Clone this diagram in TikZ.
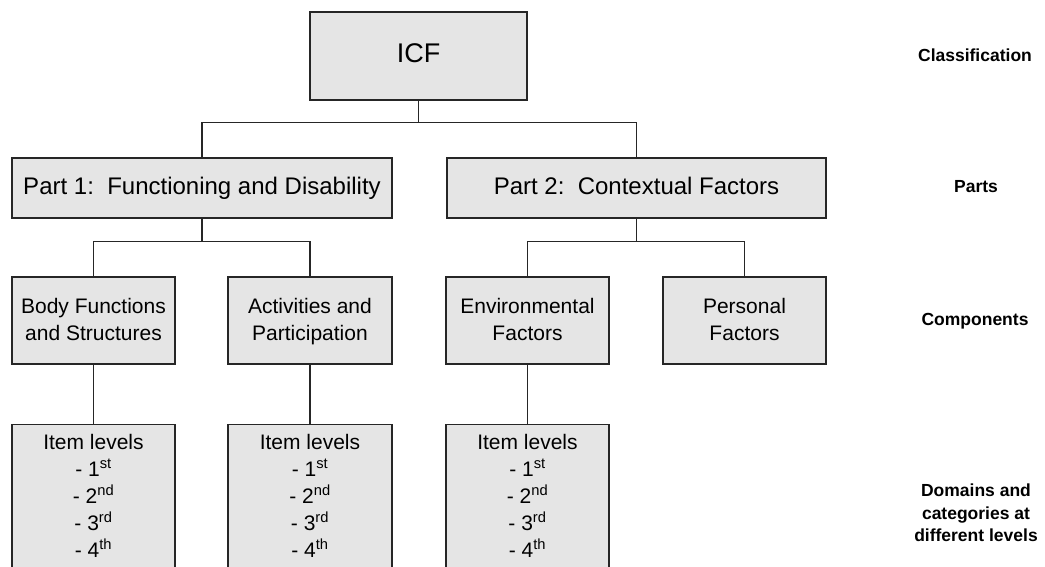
\documentclass[tikz,border=0pt]{standalone}
\usepackage{fontspec}
\setmainfont{Liberation Sans}
\newcommand\tstrut{\rule[-0.17\baselineskip]{0pt}{0.8\baselineskip}}
\begin{document}
\begin{tikzpicture}[x=1pt,y=-1pt,
  box/.style={draw=black!85, fill=black!10, line width=1.3pt, inner sep=0pt, align=center},
  conn/.style={draw=black!85, line width=1.3pt},
  lvl/.style={font=\bfseries\fontsize{17.5}{22.5}\selectfont, align=center, inner sep=0pt},
  comp/.style={box, minimum width=163pt, minimum height=87pt, font=\fontsize{21}{27}\selectfont},
  items/.style={box, minimum width=163pt, minimum height=146pt, anchor=north, font=\fontsize{21}{27}\selectfont}
]
\useasboundingbox (0,0) rectangle (1045,567);
\clip (0,0) rectangle (1045,567);
\fill[white] (0,0) rectangle (1045,567);

\node[box, minimum width=217pt, minimum height=88pt, font=\fontsize{27}{32}\selectfont] (icf) at (418.5,56) {\strut ICF};
\node[box, minimum width=380pt, minimum height=60pt, font=\fontsize{24}{28}\selectfont] (p1) at (202,188) {\tstrut Part 1:\ \ Functioning and Disability};
\node[box, minimum width=379pt, minimum height=60pt, font=\fontsize{24}{28}\selectfont] (p2) at (636.5,188) {\tstrut Part 2:\ \ Contextual Factors};

\node[comp] (bf) at (93.5,320.5) {\tstrut Body Functions\\\tstrut and Structures};
\node[comp, minimum width=164pt] (ap) at (310,320.5) {\tstrut Activities and\\\tstrut Participation};
\node[comp] (ef) at (527.5,320.5) {\tstrut Environmental\\\tstrut Factors};
\node[comp] (pf) at (744.5,320.5) {\tstrut Personal\\\tstrut Factors};

\node[items] (i1) at (93.5,424) {\strut Item levels\\- 1\textsuperscript{st}\\- 2\textsuperscript{nd}\\- 3\textsuperscript{rd}\\\strut - 4\textsuperscript{th}};
\node[items, minimum width=164pt] (i2) at (310,424) {\strut Item levels\\- 1\textsuperscript{st}\\- 2\textsuperscript{nd}\\- 3\textsuperscript{rd}\\\strut - 4\textsuperscript{th}};
\node[items] (i3) at (527.5,424) {\strut Item levels\\- 1\textsuperscript{st}\\- 2\textsuperscript{nd}\\- 3\textsuperscript{rd}\\\strut - 4\textsuperscript{th}};

\draw[conn] (icf.south) -- ++(0,22) coordinate (j0);
\draw[conn] (j0) -| (p1.north);
\draw[conn] (j0) -| (p2.north);
\draw[conn] (p1.south) -- ++(0,23) coordinate (j1);
\draw[conn] (j1) -| (bf.north);
\draw[conn] (j1) -| (ap.north);
\draw[conn] (p2.south) -- ++(0,23) coordinate (j2);
\draw[conn] (j2) -| (ef.north);
\draw[conn] (j2) -| (pf.north);
\draw[conn] (bf.south) -- (i1.north);
\draw[conn] (ap.south) -- (i2.north);
\draw[conn] (ef.south) -- (i3.north);

\node[lvl] (lc) at (975,55) {Classification};
\node[lvl] (lp) at (976,187) {Parts};
\node[lvl] (lco) at (975,321) {Components};
\node[lvl] (ld) at (976,513) {Domains and\\categories at\\different levels};
\end{tikzpicture}
\end{document}
